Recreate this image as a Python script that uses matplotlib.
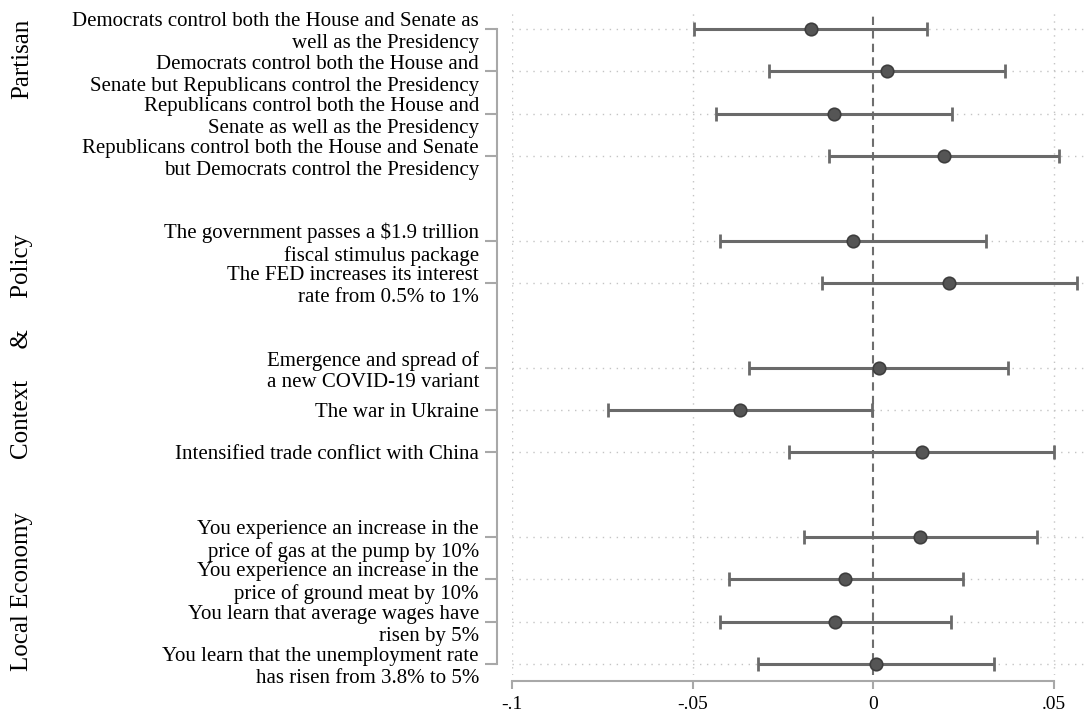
import matplotlib.pyplot as plt
import matplotlib.transforms as mtransforms

# labels top to bottom
labels = [
    'Democrats control both the House and Senate as\nwell as the Presidency',
    'Democrats control both the House and\nSenate but Republicans control the Presidency',
    'Republicans control both the House and\nSenate as well as the Presidency',
    'Republicans control both the House and Senate\nbut Democrats control the Presidency',
    'The government passes a $1.9 trillion\nfiscal stimulus package',
    'The FED increases its interest\nrate from 0.5% to 1%',
    'Emergence and spread of\na new COVID-19 variant',
    'The war in Ukraine',
    'Intensified trade conflict with China',
    'You experience an increase in the\nprice of gas at the pump by 10%',
    'You experience an increase in the\nprice of ground meat by 10%',
    'You learn that average wages have\nrisen by 5%',
    'You learn that the unemployment rate\nhas risen from 3.8% to 5%',
]
estimates = [-0.0173, 0.0038, -0.0109, 0.0197, -0.0057, 0.0210, 0.0015,
             -0.0369, 0.0134, 0.0129, -0.0077, -0.0106, 0.0007]
ci_low = [-0.0497, -0.0289, -0.0436, -0.0123, -0.0424, -0.0141, -0.0343,
          -0.0735, -0.0233, -0.0192, -0.0400, -0.0424, -0.0318]
ci_high = [0.0149, 0.0364, 0.0218, 0.0513, 0.0311, 0.0564, 0.0373,
           -0.0003, 0.0501, 0.0452, 0.0249, 0.0215, 0.0333]
group_sizes = [4, 2, 3, 4]
group_names = ['Partisan', 'Context     &     Policy', 'Local Economy']
xticks = [-0.1, -0.05, 0, 0.05]
xticklabels = ['-.1', '-.05', '0', '.05']

plt.rcParams['font.family'] = ['Liberation Serif', 'DejaVu Serif']

# rows with one empty slot between groups
ypos = []
p = 0
for g in group_sizes:
    for i in range(g):
        ypos.append(p)
        p += 1
    p += 1

fig = plt.figure(figsize=(10.86, 7.21), dpi=100)
ax = fig.add_axes([512 / 1086, 1 - 675 / 721, 1 - 512 / 1086, 663 / 721])

ax.set_xlim(-0.1, 0.0589)
ax.set_ylim(15.26, -0.40)

# grid
for y in ypos:
    ax.axhline(y, color='#c4c4c4', lw=1, ls=(0, (1, 4)), zorder=0)
for x in [-0.1, -0.05, 0.05]:
    ax.axvline(x, color='#c4c4c4', lw=1, ls=(0, (1, 4)), zorder=0)
ax.axvline(0, color='#6e6e6e', lw=1.5, ls=(0, (4, 2.5)), zorder=1)

err = [[e - l for e, l in zip(estimates, ci_low)],
       [h - e for e, h in zip(estimates, ci_high)]]
ax.errorbar(estimates, ypos, xerr=err, fmt='none', ecolor='#6a6a6a',
            elinewidth=2.2, capsize=5, capthick=2, zorder=2)
ax.plot(estimates, ypos, 'o', ms=9, mfc='#555555', mec='#3e3e3e', mew=1.2, zorder=3)

ax.tick_params(axis='y', length=9, width=1.5, color='#a8a8a8', pad=4, labelsize=15)
ax.tick_params(axis='x', length=6, width=1.5, color='#a8a8a8', pad=5, labelsize=14)
ax.set_yticks(ypos)
ax.set_yticklabels(labels, linespacing=0.95, va='center')
ax.set_xticks(xticks)
ax.set_xticklabels(xticklabels)

for s in ['top', 'right']:
    ax.spines[s].set_visible(False)
ax.spines['left'].set_position(('outward', 10.8))
ax.spines['bottom'].set_position(('outward', 4.3))
ax.spines['left'].set_bounds(0, 15)
ax.spines['bottom'].set_bounds(-0.1, 0.05)
for s in ['left', 'bottom']:
    ax.spines[s].set_color('#a8a8a8')
    ax.spines[s].set_linewidth(1.5)

trans = mtransforms.blended_transform_factory(fig.transFigure, ax.transData)
for name, yc in zip(group_names, [0.71, 7.49, 13.28]):
    fig.text(22 / 1086, yc, name, transform=trans, rotation=90,
             ha='center', va='center', fontsize=18)

fig.savefig('out.png', dpi=100)
